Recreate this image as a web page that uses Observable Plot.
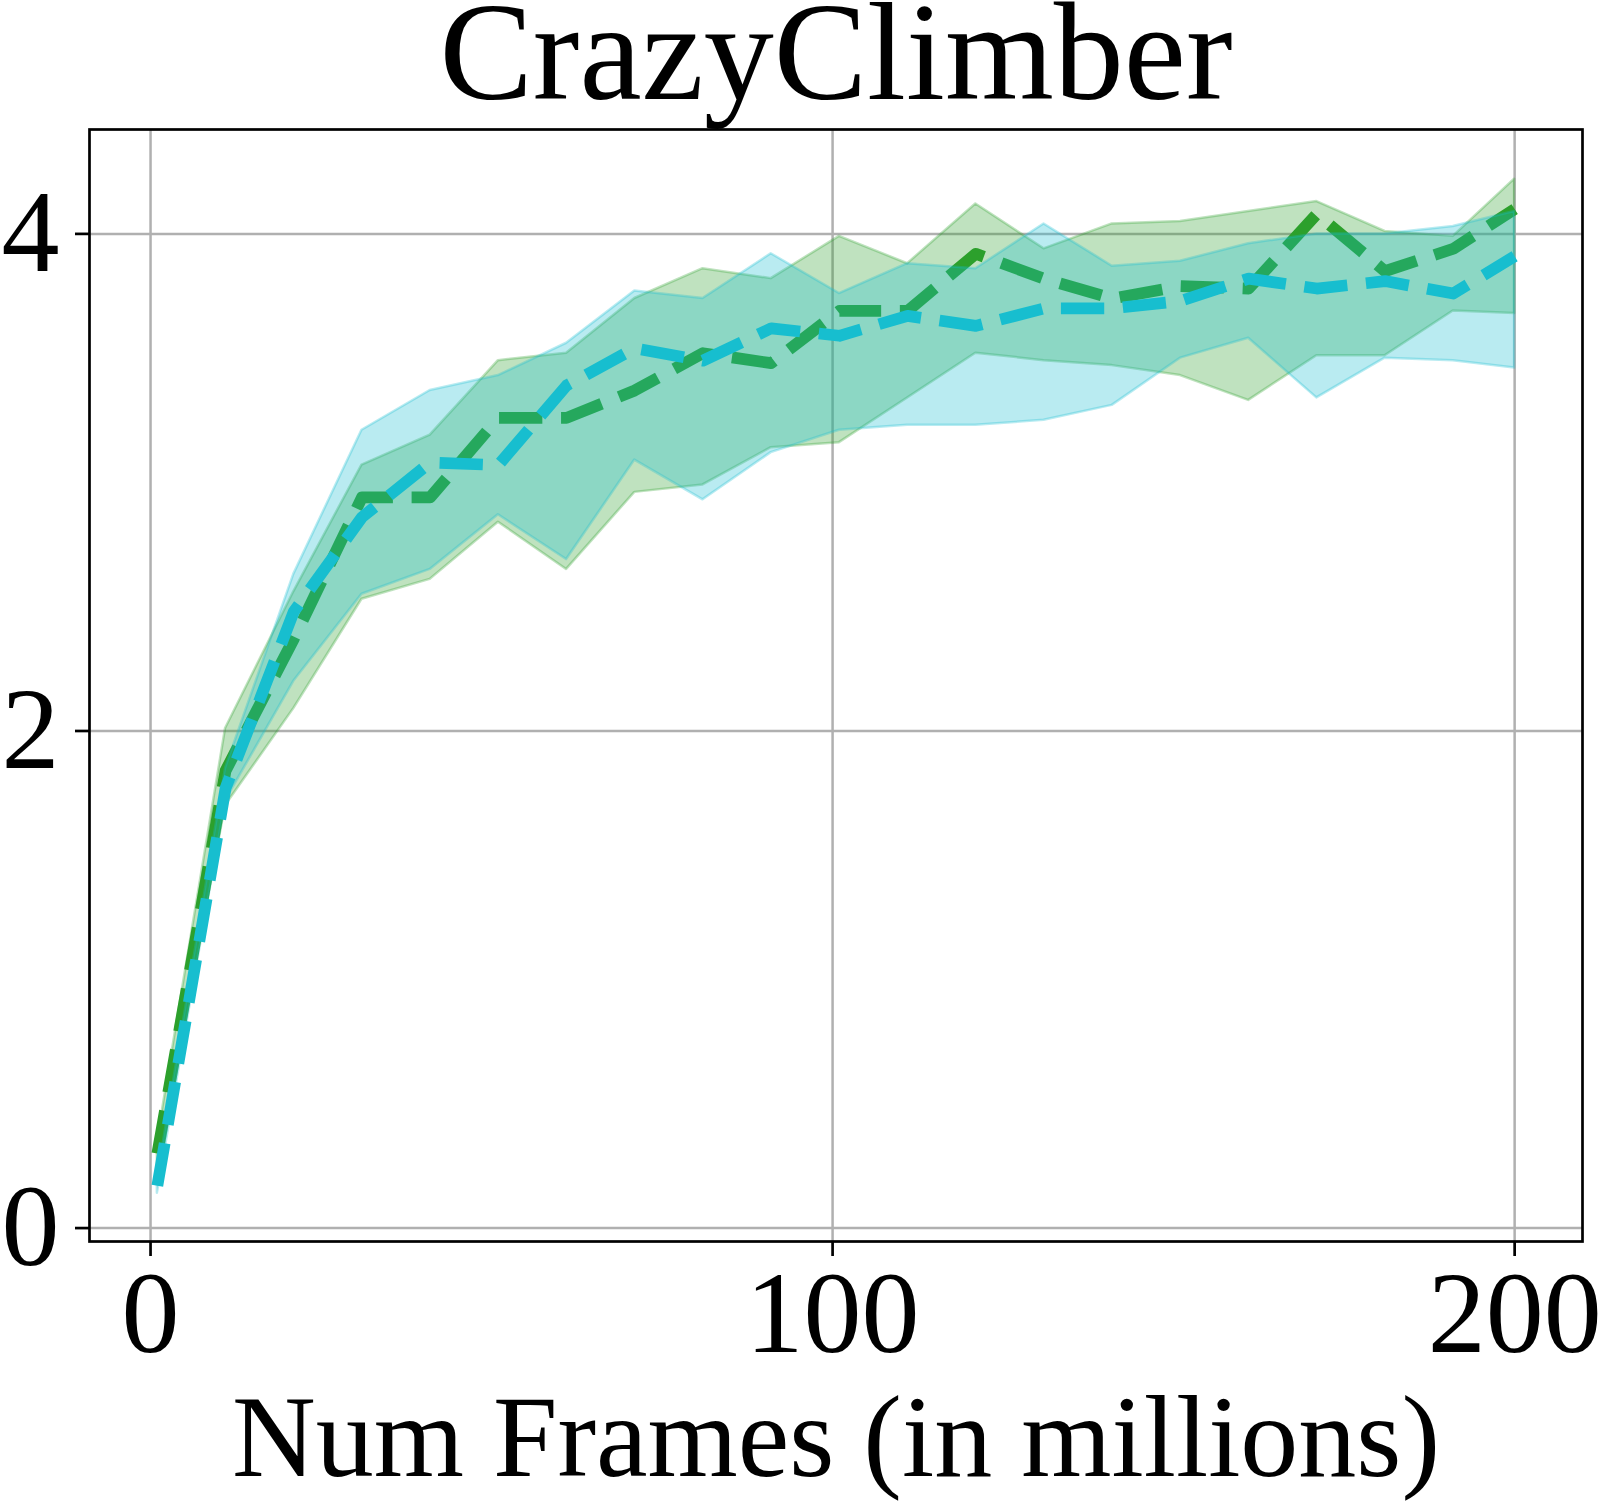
<!DOCTYPE html>
<html>
<head>
<meta charset="utf-8">
<script src="https://cdn.jsdelivr.net/npm/d3@7"></script>
<script src="https://cdn.jsdelivr.net/npm/@observablehq/plot@0.6"></script>
<style>
  html, body { margin: 0; padding: 0; background: white; }
  #chart svg { display: block; }
</style>
</head>
<body>
<div id="chart"></div>
<script>
const title = "CrazyClimber";
const xLabel = "Num Frames (in millions)";
const xTicks = [0, 100, 200];
const yTicks = [0, 2, 4];

const frames = [1, 11, 21, 31, 41, 51, 61, 71, 81, 91, 101, 111, 121, 131, 141, 151, 161, 171, 181, 191, 200];

const greenMean  = [0.30, 1.84, 2.37, 2.94, 2.94, 3.26, 3.26, 3.37, 3.52, 3.48, 3.69, 3.69, 3.92, 3.82, 3.74, 3.79, 3.78, 4.08, 3.85, 3.94, 4.10];
const greenUpper = [0.35, 2.01, 2.56, 3.07, 3.19, 3.49, 3.52, 3.74, 3.86, 3.82, 3.99, 3.88, 4.12, 3.94, 4.04, 4.05, 4.09, 4.13, 4.01, 3.99, 4.22];
const greenLower = [0.25, 1.70, 2.09, 2.53, 2.61, 2.84, 2.65, 2.96, 2.99, 3.14, 3.16, 3.34, 3.52, 3.49, 3.47, 3.43, 3.33, 3.51, 3.51, 3.69, 3.68];

const cyanMean  = [0.17, 1.77, 2.48, 2.86, 3.08, 3.07, 3.39, 3.54, 3.49, 3.62, 3.59, 3.67, 3.63, 3.70, 3.70, 3.73, 3.82, 3.78, 3.81, 3.76, 3.91];
const cyanUpper = [0.20, 1.85, 2.63, 3.21, 3.37, 3.43, 3.56, 3.77, 3.74, 3.92, 3.76, 3.88, 3.86, 4.04, 3.87, 3.89, 3.96, 4.00, 4.00, 4.03, 4.09];
const cyanLower = [0.14, 1.72, 2.20, 2.55, 2.65, 2.87, 2.69, 3.09, 2.93, 3.12, 3.21, 3.23, 3.23, 3.25, 3.31, 3.50, 3.58, 3.34, 3.50, 3.49, 3.46];

const green = "#2ca02c";
const cyan = "#17becf";

const greenData = frames.map((x, i) => ({x, mean: greenMean[i], lo: greenLower[i], hi: greenUpper[i]}));
const cyanData = frames.map((x, i) => ({x, mean: cyanMean[i], lo: cyanLower[i], hi: cyanUpper[i]}));

const band = (data, color) => Plot.areaY(data, {
  x: "x", y1: "lo", y2: "hi",
  fill: color, fillOpacity: 0.3,
  stroke: color, strokeOpacity: 0.3, strokeWidth: 2.5
});
const meanLine = (data, color) => Plot.line(data, {
  x: "x", y: "mean",
  stroke: color, strokeWidth: 11.7,
  strokeDasharray: "43.3,18.7", strokeLinecap: "butt", strokeLinejoin: "round"
});

const chart = Plot.plot({
  width: 1601,
  height: 1501,
  marginLeft: 89,
  marginRight: 19,
  marginTop: 129,
  marginBottom: 260,
  x: {domain: [-8.95, 209.95]},
  y: {domain: [-0.054, 4.42]},
  style: {fontFamily: "'Liberation Serif', 'Times New Roman', serif", background: "white", color: "black"},
  marks: [
    Plot.gridX(xTicks, {stroke: "#b0b0b0", strokeOpacity: 1, strokeWidth: 2.5}),
    Plot.gridY(yTicks, {stroke: "#b0b0b0", strokeOpacity: 1, strokeWidth: 2.5}),
    band(greenData, green),
    meanLine(greenData, green),
    band(cyanData, cyan),
    meanLine(cyanData, cyan),
    Plot.frame({stroke: "black", strokeWidth: 2.7}),
    Plot.axisX(xTicks, {tickSize: 15, tickPadding: 13, fontSize: 116, label: null, strokeWidth: 2.7, tickFormat: d => String(d)}),
    Plot.axisY(yTicks, {tickSize: 14, tickPadding: 16, fontSize: 116, label: null, strokeWidth: 2.7, tickFormat: d => String(d)}),
    Plot.text([title], {text: d => d, frameAnchor: "top", dy: -130, lineAnchor: "top", fontSize: 140, fill: "black"}),
    Plot.text([xLabel], {text: d => d, frameAnchor: "bottom", dy: 152, lineAnchor: "top", fontSize: 116, fill: "black"})
  ]
});
document.getElementById("chart").appendChild(chart);
</script>
</body>
</html>
